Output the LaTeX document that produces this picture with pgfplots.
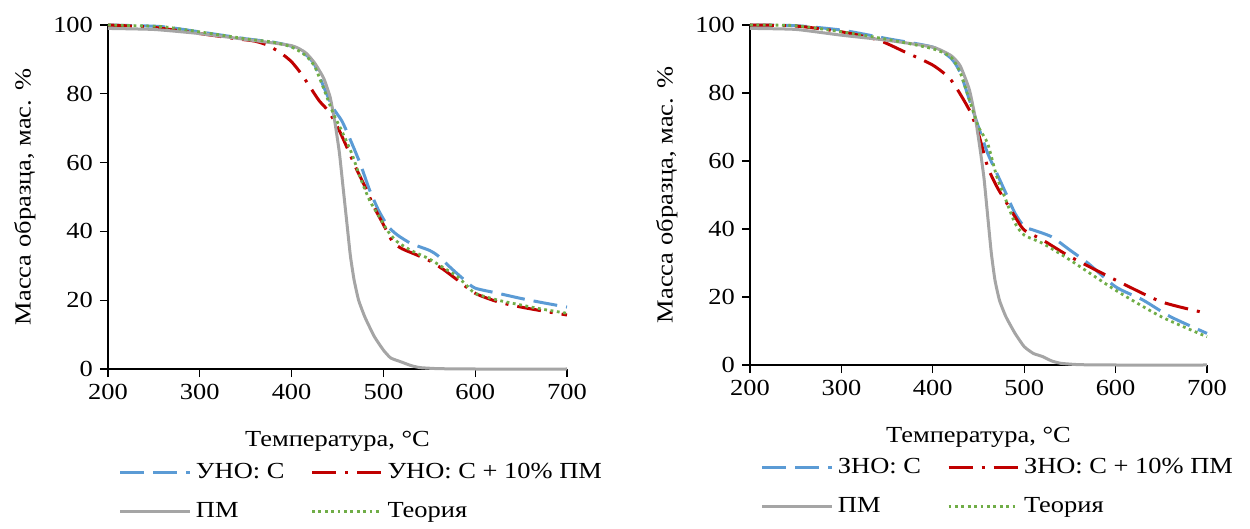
\documentclass[border=0pt]{standalone}
\usepackage{fontspec}
\setmainfont[FakeStretch=1.15]{Liberation Serif}
\usepackage{pgfplots}
\pgfplotsset{compat=1.18}
\definecolor{cblue}{HTML}{5B9BD5}
\definecolor{cred}{HTML}{C00000}
\definecolor{cgray}{HTML}{A5A5A5}
\definecolor{cgreen}{HTML}{70AD47}
\pgfplotsset{
  tga/.style={
    scale only axis, width=229.5pt, height=172pt,
    xmin=200, xmax=700, ymin=0, ymax=100,
    xtick={200,300,...,700}, ytick={0,20,...,100},
    axis lines=left, axis line style={-, black, line width=0.6pt},
    tick align=outside, major tick length=4pt, tick style={black, line width=0.6pt},
    /pgf/number format/assume math mode=true,
    ticklabel style={font=\fontsize{11.5}{13}\selectfont},
    label style={font=\fontsize{11.5}{13}\selectfont},
    xlabel={Температура, °C},
    ylabel={Масса образца, мас. \%},
    xlabel style={yshift=-9pt},
    ylabel style={yshift=2pt},
    legend columns=2,
    legend cell align=left,
    legend style={draw=none, fill=none, at={(0.01,-0.25)}, anchor=north west,
      font=\fontsize{11.5}{13}\selectfont, row sep=6.5pt,
      /tikz/every even column/.append style={column sep=11pt}},
    legend image code/.code={\draw[##1] (0pt,0pt) -- (35pt,0pt);},
    clip=false,
  },
  sblue/.style={cblue, line width=1.5pt, dash pattern=on 12pt off 4.5pt},
  sred/.style={cred, line width=1.5pt, dash pattern=on 12pt off 4.5pt on 1.5pt off 4.5pt},
  sgray/.style={cgray, line width=1.5pt},
  sgreen/.style={cgreen, line width=1.4pt, dash pattern=on 1.4pt off 1.8pt},
}
\begin{document}
\begin{tikzpicture}
\begin{axis}[tga, at={(0pt,0pt)}]
\addplot[sblue, smooth, tension=0.4] coordinates {(200,100) (230,99.8) (260,99.5) (300,98) (350,96) (380,95) (400,93.8) (415,91.5) (425,88.5) (435,82) (445,76) (455,72) (465,66) (475,59.5) (485,52) (495,46) (505,41.5) (515,39) (530,36.5) (550,34.5) (560,32.8) (575,29) (590,25.5) (600,23.5) (625,22) (650,20.5) (675,19.2) (700,18)};
\addlegendentry{УНО:  С}
\addplot[sred, smooth, tension=0.4] coordinates {(200,100) (250,99.3) (300,97.5) (340,96) (360,95.3) (375,94) (390,91.5) (400,89.3) (410,86) (420,82) (430,78) (440,75) (450,70.4) (460,64.6) (470,58.5) (480,53) (490,47) (500,42) (510,37) (520,35) (535,33.3) (550,31.5) (565,29) (580,26) (600,22) (625,19.5) (650,18) (675,16.8) (700,15.7)};
\addlegendentry{УНО:  С + 10\% ПМ}
\addplot[sgray, smooth, tension=0.3] coordinates {(200,99) (250,98.7) (300,97.5) (350,95.8) (400,94) (415,92) (425,89) (435,84.5) (442,79) (447,72) (452,63) (456,53) (460,43) (464,33) (468,26) (473,20) (480,15) (490,9.5) (500,5.5) (508,3.2) (520,2) (530,1) (540,0.4) (560,0.1) (600,0) (700,0)};
\addlegendentry{ПМ}
\addplot[sgreen, smooth, tension=0.4] coordinates {(200,100) (230,99.8) (260,99.5) (300,98) (350,96) (380,95) (400,93.6) (415,91.2) (425,88) (435,81.5) (445,74.5) (455,69) (465,63) (475,55.5) (485,49) (495,44.5) (505,40) (515,37) (530,34.5) (550,32) (565,29.5) (580,27) (590,24.5) (600,22) (625,20) (650,18.6) (675,17.3) (700,16.2)};
\addlegendentry{Теория}
\end{axis}
\begin{axis}[tga, at={(321pt,2pt)}, height=170pt, width=228.5pt]
\addplot[sblue, smooth, tension=0.4] coordinates {(200,100) (250,99.8) (300,98.5) (350,96) (400,93.5) (420,90.2) (430,86) (440,78) (450,70) (460,62.3) (470,56.4) (480,50.5) (490,44.6) (500,40.7) (510,39.7) (530,37.7) (550,33.8) (570,29.9) (600,23) (630,19.1) (660,14.2) (700,9.3)};
\addlegendentry{ЗНО: С}
\addplot[sred, smooth, tension=0.4] coordinates {(200,100) (250,99.7) (300,98) (340,95.6) (370,92) (400,88.2) (420,83.8) (440,75) (450,68) (460,58.3) (470,52.5) (480,48) (490,43.6) (500,39.7) (520,36.8) (550,31.9) (600,25) (650,18.6) (700,15.2)};
\addlegendentry{ЗНО: С + 10\% ПМ}
\addplot[sgray, smooth, tension=0.3] coordinates {(200,99) (250,98.7) (300,97) (350,95.5) (400,93.5) (420,91) (430,88) (440,81) (447,72) (452,63) (456,55) (460,44) (464,33) (468,25) (473,19) (480,14.2) (490,9.3) (500,5.4) (510,3.4) (520,2.5) (530,1.2) (540,0.5) (560,0.1) (600,0) (700,0)};
\addlegendentry{ПМ}
\addplot[sgreen, smooth, tension=0.4] coordinates {(200,100) (250,99.8) (300,98) (350,95.8) (400,93) (420,90.5) (430,86) (440,78) (450,70) (460,65.2) (470,55.4) (480,48.5) (490,41.7) (500,38.2) (520,35.8) (550,30.9) (600,22) (650,14.2) (700,8.3)};
\addlegendentry{Теория}
\end{axis}
\useasboundingbox (-54pt,-75.5pt) rectangle (571pt,184.5pt);
\end{tikzpicture}
\end{document}
